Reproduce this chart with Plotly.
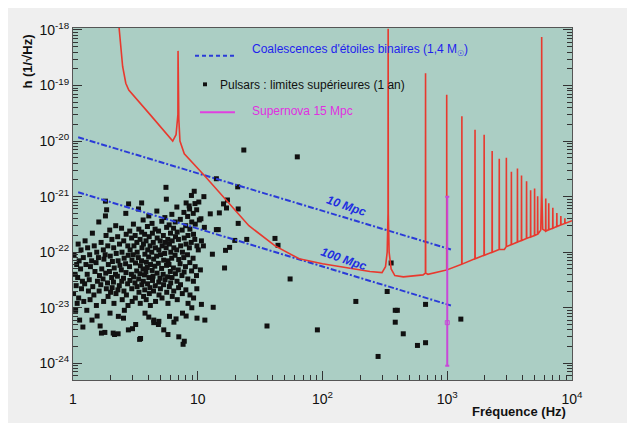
import plotly.graph_objects as go

# ---------------- data ----------------
# Virgo sensitivity curve (smooth part), frequency in Hz, strain in 1/sqrt(Hz)
curve_f = [2.2, 2.35, 2.5, 2.65, 2.8, 4.2, 6.3, 6.7, 6.85, 7.05, 7.2, 7.8, 11.3, 17.7, 25.7,
           41.7, 65, 100, 240, 300, 320, 330, 342, 355, 380, 445, 640, 700, 990, 2870,
           5620, 5690, 5740, 5820, 10000]
curve_h = [5e-18, 1e-18, 2.2e-19, 1.1e-19, 8.3e-20, 2.9e-20, 1e-20, 1.3e-20, 3e-20, 2.5e-20, 1e-20,
           5.9e-21, 2.4e-21, 7.6e-22, 3e-22, 1.3e-22, 7.6e-23, 6.2e-23, 4.5e-23, 4.3e-23, 5.5e-23,
           1e-22, 1e-22, 5e-23, 3.8e-23, 3.6e-23, 3.9e-23, 4e-23, 4.8e-23, 1.12e-22,
           2.5e-22, 1.1e-21, 1.1e-21, 2.6e-22, 3.7e-22]

# resonance lines of the curve: frequency, peak value, foot value
spike_f = [6.95, 336, 670, 990, 1310, 1670, 1976, 2291, 2612, 2978, 3267, 3654, 3939, 4323,
           4659, 5013, 5305, 5715, 6160, 6510, 7020, 7560, 8140, 8770]
spike_top = [4.2e-19, 1.05e-18, 1.66e-19, 6.8e-20, 2.8e-20, 1.6e-20, 1.3e-20, 6.6e-21, 4.8e-21,
             5e-21, 2.8e-21, 3.2e-21, 2.4e-21, 1.9e-21, 1.3e-21, 1.4e-21, 1.02e-21, 7.5e-19,
             9.3e-22, 7.6e-22, 6.3e-22, 5.1e-22, 4.5e-22, 4.1e-22]
spike_base = [3e-20, 5e-22, 4.2e-23, 4.8e-23, 6.1e-23, 7.6e-23, 8.8e-23, 1e-22, 1.12e-22,
              1.26e-22, 1.37e-22, 1.52e-22, 1.62e-22, 1.77e-22, 1.88e-22, 2e-22, 2.1e-22, 1.2e-21,
              2.4e-22, 2.54e-22, 2.7e-22, 2.9e-22, 3.1e-22, 3.3e-22]

# Binary neutron star coalescences (1.4 Msun)
bns_f = [1.1, 1070]
bns_10mpc = [1.17e-20, 1.12e-22]
bns_100mpc = [1.2e-21, 1.1e-23]

# Supernova at 15 Mpc
sn_f = [1000]
sn_h = [5.4e-24]
sn_hi = [1e-21]
sn_lo = [9e-25]

# Pulsars: upper limits (1 year)
pulsar_f = [
    1.02, 1.04, 1.01, 1.05,
    1.07, 1.06, 1.08,
    1.10, 1.12, 1.09, 1.11, 1.13,
    1.16, 1.15, 1.17,
    1.21, 1.19, 1.22, 1.20,
    1.25, 1.27, 1.24,
    1.31, 1.30, 1.33, 1.29,
    1.36, 1.38, 1.35, 1.37,
    1.43, 1.41, 1.44, 1.42,
    1.48, 1.50, 1.47,
    1.55, 1.53, 1.57, 1.54,
    1.61, 1.60, 1.63, 1.62,
    1.68, 1.70, 1.67, 1.69,
    1.75, 1.77, 1.74, 1.76,
    1.82, 1.84, 1.81, 1.83, 1.85, 1.80,
    1.90, 1.92, 1.89, 1.91,
    1.97, 1.99, 1.96, 2.00, 1.98,
    2.05, 2.07, 2.04, 2.06,
    2.12, 2.14, 2.11, 2.13, 2.15,
    2.20, 2.22, 2.19, 2.21,
    2.28, 2.30, 2.27, 2.29, 2.31,
    2.36, 2.38, 2.35,
    2.45, 2.47, 2.44, 2.46, 2.48,
    2.55, 2.57, 2.54, 2.56, 2.58,
    2.65, 2.67, 2.64, 2.66, 2.68,
    2.75, 2.77, 2.74, 2.76, 2.78,
    2.85, 2.87, 2.84, 2.86,
    2.95, 2.97, 2.94, 2.96, 2.98,
    3.05, 3.08, 3.04, 3.06,
    3.15, 3.17, 3.14, 3.16, 3.18,
    3.25, 3.27, 3.24, 3.26,
    3.35, 3.37, 3.34, 3.36, 3.38,
    3.45, 3.47, 3.44, 3.46, 3.48,
    3.55, 3.57, 3.54, 3.56,
    3.65, 3.67, 3.64, 3.66, 3.68,
    3.75, 3.77, 3.74, 3.76, 3.78,
    3.85, 3.87, 3.84, 3.86,
    3.95, 3.97, 3.94, 3.96,
    4.05, 4.08, 4.04, 4.06, 4.09,
    4.15, 4.18, 4.14, 4.17,
    4.30, 4.33, 4.28, 4.31, 4.34,
    4.40, 4.43, 4.38, 4.42, 4.44,
    4.55, 4.58, 4.53, 4.57, 4.59,
    4.70, 4.73, 4.68, 4.72,
    4.85, 4.88, 4.83, 4.87, 4.89, 4.84,
    5.00, 5.03, 4.98, 5.02,
    5.15, 5.18, 5.13, 5.17,
    5.30, 5.33, 5.28, 5.32, 5.34,
    5.45, 5.48, 5.43, 5.47,
    5.60, 5.63, 5.58, 5.62, 5.64,
    5.75, 5.78, 5.73, 5.77,
    5.90, 5.93, 5.88, 5.92, 5.94,
    6.05, 6.08, 6.03, 6.07,
    6.20, 6.24, 6.18, 6.22, 6.25,
    6.40, 6.43, 6.38, 6.42, 6.44,
    6.60, 6.63, 6.58, 6.62,
    6.80, 6.84, 6.78, 6.82, 6.85,
    7.00, 7.04, 6.98, 7.02, 7.05,
    7.25, 7.29, 7.22, 7.27,
    7.50, 7.54, 7.47, 7.52, 7.55,
    7.75, 7.79, 7.72, 7.77, 7.80,
    8.00, 8.05, 7.97, 8.03,
    8.30, 8.35, 8.27, 8.33, 8.36,
    8.60, 8.65, 8.57, 8.63, 8.66,
    8.90, 8.95, 8.87, 8.93, 8.96,
    9.20, 9.25, 9.17, 9.23, 9.26,
    9.50, 9.55, 9.47, 9.53,
    9.80, 9.85, 9.77, 9.83, 9.86,
    10.2, 10.3, 10.1,
    10.6, 10.7, 10.5,
    11.2, 11.3, 11.1, 11.4,
    1.65, 2.1, 2.3, 3.0, 3.42, 5.77, 6.7, 8.07, 13.3, 10.7, 1.56, 4.88, 4.05, 4.44, 2.54, 7.63,
    1.82, 1.86, 2.79, 3.55, 5.56, 9.37, 8.07, 8.53,
    62.8, 23.4, 14.1, 20.9, 17.3, 16.1, 17.0, 14.9, 21.1, 12.6, 21.1, 14.1, 14.6, 19.8, 24.7,
    41.6, 44, 18, 16.7, 13.1, 16.4, 55, 35.9, 91,
    355, 330, 185, 670, 383, 398, 383, 444, 577, 670, 279, 1285,
]
pulsar_h = [
    9e-23, 4e-23, 1.8e-23, 9e-24,
    6e-23, 2.5e-23, 1.2e-23,
    1.4e-22, 7e-23, 3.5e-23, 1.5e-23, 6e-24,
    1.1e-22, 5e-23, 2.2e-23,
    8e-23, 3e-23, 1.3e-23, 4.5e-24,
    1.6e-22, 6e-23, 2.7e-23,
    1.2e-22, 4e-23, 2e-23, 9e-24,
    9e-23, 5.5e-23, 3.2e-23, 1.4e-23,
    2.2e-22, 7e-23, 2.4e-23, 6e-24,
    1.3e-22, 4.5e-23, 1.7e-23,
    1e-22, 6.5e-23, 3e-23, 1.1e-23,
    3.5e-22, 8e-23, 3.8e-23, 2e-23,
    1.5e-22, 5e-23, 2.6e-23, 3.5e-24,
    1.1e-22, 7.5e-23, 3.3e-23, 1.3e-23,
    4.5e-22, 2e-22, 9e-23, 4.2e-23, 2.2e-23, 3.6e-24,
    1.3e-22, 6e-23, 2.8e-23, 1.6e-23,
    2.5e-22, 8.5e-23, 4.5e-23, 1.9e-23, 8e-24,
    1.7e-22, 6.8e-23, 3.5e-23, 2.3e-23,
    1.2e-22, 5.2e-23, 2.9e-23, 1.2e-23, 3.3e-24,
    3e-22, 9.5e-23, 4e-23, 1.8e-23,
    1.9e-22, 7e-23, 3.7e-23, 2.1e-23, 7e-24,
    1.4e-22, 5.8e-23, 2.5e-23,
    2.7e-22, 1e-22, 4.8e-23, 3e-23, 1.4e-23,
    1.6e-22, 7.8e-23, 3.4e-23, 2e-23, 9e-24,
    5e-22, 2.1e-22, 6.2e-23, 4.3e-23, 1.7e-23,
    1.3e-22, 8.8e-23, 2.7e-23, 1.1e-23, 4e-24,
    2.4e-22, 1.1e-22, 5.5e-23, 3.1e-23,
    1.8e-22, 7.2e-23, 4e-23, 2.2e-23, 1.3e-23,
    3.2e-22, 1.3e-22, 9e-23, 3.6e-23,
    2e-22, 6.4e-23, 2.8e-23, 1.5e-23, 5e-24,
    1.5e-22, 1e-22, 4.6e-23, 2.4e-23,
    6e-22, 2.6e-22, 8e-23, 3.3e-23, 1.9e-23,
    1.7e-22, 5.7e-23, 4.1e-23, 1.2e-23, 2.8e-24,
    2.3e-22, 1.2e-22, 7e-23, 2.6e-23,
    3.8e-22, 1.4e-22, 5e-23, 3e-23, 1.6e-23,
    2.1e-22, 9.2e-23, 3.9e-23, 2.1e-23, 8e-24,
    1.6e-22, 6.6e-23, 4.4e-23, 1.4e-23,
    2.9e-22, 1.1e-22, 5.3e-23, 2.7e-23,
    4.5e-22, 1.9e-22, 8.2e-23, 3.5e-23, 1.8e-23,
    1.3e-22, 6e-23, 2.3e-23, 1.1e-23,
    3.3e-22, 2.2e-22, 1e-22, 4.7e-23, 3.1e-23,
    1.5e-22, 7.5e-23, 3.7e-23, 2e-23, 6e-24,
    2.6e-22, 1.2e-22, 5.6e-23, 2.5e-23, 1.3e-23,
    5.5e-22, 1.8e-22, 8.5e-23, 4.2e-23,
    2.4e-22, 1.1e-22, 6.3e-23, 2.9e-23, 1.7e-23, 5e-24,
    1.6e-22, 9e-23, 3.4e-23, 2.2e-23,
    3.6e-22, 1.3e-22, 5.1e-23, 1.5e-23,
    2e-22, 7.2e-23, 4e-23, 2.6e-23, 4e-24,
    4.2e-22, 1.5e-22, 9.5e-23, 3.2e-23,
    9e-22, 2.8e-22, 1.2e-22, 5.8e-23, 1.9e-23,
    1.7e-22, 7e-23, 3.6e-23, 1.2e-23,
    3.1e-22, 1.4e-22, 6e-23, 2.4e-23, 7e-24,
    2.2e-22, 1e-22, 4.5e-23, 2.8e-23,
    4.8e-22, 1.6e-22, 7.8e-23, 3.5e-23, 1.6e-23,
    2.7e-22, 1.2e-22, 5.2e-23, 2e-23, 5.5e-24,
    3.5e-22, 1.9e-22, 8.8e-23, 4.1e-23,
    6.5e-22, 2.3e-22, 1.1e-22, 3e-23, 1.4e-23,
    1.7e-22, 7.4e-23, 4.8e-23, 2.3e-23, 3e-24,
    3.9e-22, 1.3e-22, 6.2e-23, 2.6e-23,
    2.5e-22, 1e-22, 3.8e-23, 1.8e-23, 8e-24,
    5.2e-22, 1.8e-22, 8e-23, 4.4e-23, 2.5e-24,
    3e-22, 1.4e-22, 5.5e-23, 2.1e-23,
    4.4e-22, 2e-22, 9e-23, 3.3e-23, 1.2e-23,
    6e-22, 2.6e-22, 1.2e-22, 6.5e-23, 1.7e-23,
    1.05e-21, 3.5e-22, 1.5e-22, 4.6e-23, 1e-23,
    5e-22, 2.1e-22, 7.8e-23, 3e-23, 1.5e-23,
    7.5e-22, 3.2e-22, 1.7e-22, 5.5e-23,
    5.8e-22, 1.3e-22, 3.8e-23, 2.2e-23, 6.5e-24,
    8e-22, 3.8e-22, 1.1e-22,
    4e-22, 1.6e-22, 4.8e-23,
    1e-21, 2.8e-22, 1.3e-22, 6e-24,
    4.7e-24, 3.5e-24, 3.4e-24, 4.2e-24, 2.7e-24, 3.3e-24, 6.3e-24, 7.1e-24, 1.02e-23, 1.15e-23,
    7.1e-24, 5.7e-24, 6.8e-24, 5.4e-24, 6.5e-24, 2.2e-24,
    8.3e-22, 5.8e-22, 7.4e-22, 7.7e-22, 1.47e-21, 1.25e-21, 7.7e-22, 6.8e-22,
    5.2e-21, 6.9e-21, 2.1e-21, 1.5e-21, 8.7e-22, 7.4e-22, 6.25e-22, 5.1e-22, 6e-22, 4.9e-22,
    3.3e-22, 2.55e-22, 2.55e-22, 1.63e-22, 1.7e-22,
    1.77e-22, 1.33e-22, 1.22e-22, 1.08e-22, 9.2e-23, 5.2e-23, 3.3e-23, 4.7e-24, 4e-24,
    6.4e-23, 1.96e-23, 1.3e-23, 1.15e-23, 9e-24, 9e-24, 5.5e-24, 3.4e-24, 2.1e-24, 2.35e-24,
    1.33e-24, 6.25e-24,
]

x_tick_vals = [1, 10, 100, 1000, 10000]
x_tick_text = ["1", "10", "10<sup>2</sup>", "10<sup>3</sup>", "10<sup>4</sup>"]
y_tick_vals = [1e-24, 1e-23, 1e-22, 1e-21, 1e-20, 1e-19, 1e-18]
y_tick_text = ["10<sup>-24</sup>", "10<sup>-23</sup>", "10<sup>-22</sup>", "10<sup>-21</sup>",
               "10<sup>-20</sup>", "10<sup>-19</sup>", "10<sup>-18</sup>"]

# ---------------- styles ----------------
RED = "#e8392e"
BLUE = "#2a3bd8"
MAGENTA = "#c848d8"
TEAL = "#abcec4"
PANEL = "#efefef"
FONT = "Liberation Sans"

# build the sensitivity curve with its narrow resonance lines
pts = list(zip(curve_f, curve_h))
w = 0.0025
for f, top, base in zip(spike_f, spike_top, spike_base):
    pts += [(f * (1 - w), base), (f, top), (f * (1 + w), base)]
pts.sort()
virgo_f = [p[0] for p in pts]
virgo_h = [p[1] for p in pts]

fig = go.Figure()

fig.add_trace(go.Scatter(x=pulsar_f, y=pulsar_h, mode="markers",
                         marker=dict(symbol="square", size=5, color="#111111", line=dict(width=0)),
                         name="Pulsars : limites supérieures (1 an)", hoverinfo="x+y"))
fig.add_trace(go.Scatter(x=bns_f, y=bns_10mpc, mode="lines",
                         line=dict(color=BLUE, width=2, dash="6px,2px,2px,2px"),
                         name="10 Mpc"))
fig.add_trace(go.Scatter(x=bns_f, y=bns_100mpc, mode="lines",
                         line=dict(color=BLUE, width=2, dash="6px,2px,2px,2px"),
                         name="100 Mpc"))
fig.add_trace(go.Scatter(x=virgo_f, y=virgo_h, mode="lines",
                         line=dict(color=RED, width=1.6), name="Virgo"))
fig.add_trace(go.Scatter(x=sn_f, y=sn_h, mode="markers",
                         marker=dict(symbol="square-open", size=4, color=MAGENTA),
                         error_y=dict(type="data", symmetric=False,
                                      array=[sn_hi[0] - sn_h[0]], arrayminus=[sn_h[0] - sn_lo[0]],
                                      color=MAGENTA, thickness=2, width=2),
                         name="Supernova 15 Mpc"))

# legend drawn in the ROOT style (paper coordinates)
shapes = [
    dict(type="rect", xref="paper", yref="paper", x0=0, x1=1, y0=0, y1=1,
         fillcolor=TEAL, line=dict(width=0), layer="below"),
    dict(type="line", xref="paper", yref="paper", x0=0.2445, x1=0.3287, y0=0.921, y1=0.921,
         line=dict(color=BLUE, width=2, dash="4px,3px")),
    dict(type="rect", xref="paper", yref="paper", x0=0.2605, x1=0.2685, y0=0.8345, y1=0.8455,
         fillcolor="#111111", line=dict(width=0)),
    dict(type="line", xref="paper", yref="paper", x0=0.2545, x1=0.3246, y0=0.761, y1=0.761,
         line=dict(color="#e040e0", width=2)),
]

annotations = [
    dict(xref="paper", yref="paper", x=0.3547, y=0.9365, xanchor="left", yanchor="middle",
         text="Coalescences d'étoiles binaires (1,4 M<sub>☉</sub>)", showarrow=False,
         font=dict(family=FONT, size=12, color="#1f1fee")),
    dict(xref="paper", yref="paper", x=0.2906, y=0.8375, xanchor="left", yanchor="middle",
         text="Pulsars : limites supérieures (1 an)", showarrow=False,
         font=dict(family=FONT, size=12, color="#111111")),
    dict(xref="paper", yref="paper", x=0.3547, y=0.7647, xanchor="left", yanchor="middle",
         text="Supernova 15 Mpc", showarrow=False,
         font=dict(family=FONT, size=12, color="#e030e0")),
    dict(xref="x", yref="y", x=2.194, y=-21.17, text="<b><i>10 Mpc</i></b>", showarrow=False,
         textangle=19, font=dict(family=FONT, size=12, color="#1f2fe0")),
    dict(xref="x", yref="y", x=2.17, y=-22.12, text="<b><i>100 Mpc</i></b>", showarrow=False,
         textangle=19, font=dict(family=FONT, size=12, color="#1f2fe0")),
    dict(xref="paper", yref="paper", x=-0.092, y=0.905, xanchor="center", yanchor="middle",
         text="<b>h (1/√Hz)</b>", textangle=-90, showarrow=False,
         font=dict(family=FONT, size=13, color="#111111")),
    dict(xref="paper", yref="paper", x=0.992, y=-0.0896, xanchor="right", yanchor="middle",
         text="<b>Fréquence (Hz)</b>", showarrow=False,
         font=dict(family=FONT, size=13, color="#111111")),
]

x_minor = [m * 10 ** d for d in range(0, 4) for m in range(2, 10)]
y_minor = [m * 10.0 ** d for d in range(-25, -18) for m in range(2, 10)]

# the page body adds an 8 px offset, so the figure is 8 px smaller in each direction
fig.update_layout(
    width=627, height=415,
    margin=dict(l=65, r=63, t=15, b=43),
    paper_bgcolor=PANEL, plot_bgcolor=TEAL,
    showlegend=False,
    shapes=shapes, annotations=annotations,
    font=dict(family=FONT, color="#111111"),
    xaxis=dict(type="log", range=[0, 4], tickmode="array", tickvals=x_tick_vals,
               ticktext=x_tick_text, ticks="inside", ticklen=9, tickcolor="#333333",
               showgrid=False, zeroline=False, showline=True, linecolor="#555555",
               mirror=True, ticklabelstandoff=6,
               tickfont=dict(family=FONT, size=14, color="#111111"),
               minor=dict(tickmode="array", tickvals=x_minor, ticks="inside", ticklen=5,
                          tickcolor="#333333", showgrid=False)),
    yaxis=dict(type="log", range=[-24.30, -17.965], tickmode="array", tickvals=y_tick_vals,
               ticktext=y_tick_text, ticks="inside", ticklen=9, tickcolor="#333333",
               showgrid=False, zeroline=False, showline=True, linecolor="#555555",
               mirror="ticks",
               tickfont=dict(family=FONT, size=14, color="#111111"),
               minor=dict(tickmode="array", tickvals=y_minor, ticks="inside", ticklen=5,
                          tickcolor="#333333", showgrid=False)),
)

fig.write_html("out.html")
